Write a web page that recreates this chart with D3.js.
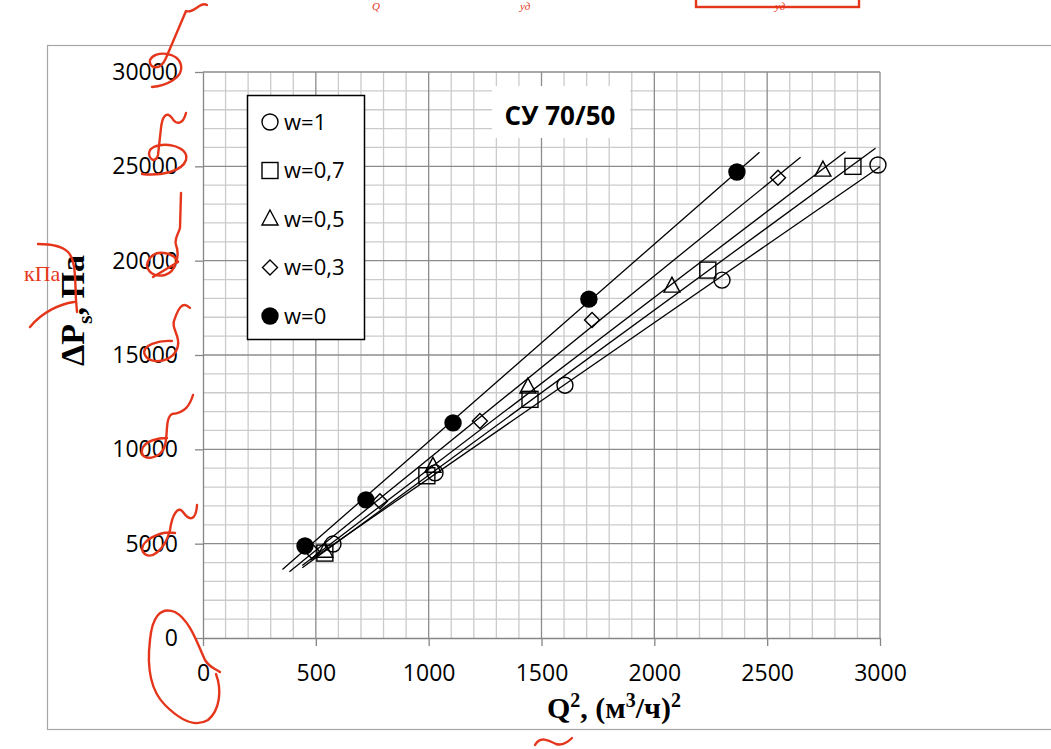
<!DOCTYPE html>
<html>
<head>
<meta charset="utf-8">
<script src="https://cdn.jsdelivr.net/npm/d3@7"></script>
<style>
body { margin: 0; background: #fff; }
svg { display: block; }
</style>
</head>
<body>
<svg width="1051" height="749"></svg>
<script>
// values: Q^2 and dPs for each w
var seriesNames = ["w=1", "w=0,7", "w=0,5", "w=0,3", "w=0"];
var seriesShapes = ["circle", "square", "triangle", "diamond", "dot"];
var q2W1  = [576, 1028, 1604, 2300, 2991];
var dpW1  = [4980, 8750, 13400, 18970, 25070];
var q2W07 = [540, 992, 1449, 2237, 2880];
var dpW07 = [4500, 8600, 12650, 19500, 25000];
var q2W05 = [540, 1019, 1440, 2078, 2747];
var dpW05 = [4600, 9100, 13300, 18650, 24800];
var q2W03 = [483, 784, 1227, 1724, 2548];
var dpW03 = [4600, 7250, 11500, 16850, 24400];
var q2W0  = [452, 722, 1108, 1710, 2366];
var dpW0  = [4880, 7320, 11400, 17960, 24700];
var xTicks = [0, 500, 1000, 1500, 2000, 2500, 3000];
var yTicks = [0, 5000, 10000, 15000, 20000, 25000, 30000];

var allQ = [q2W1, q2W07, q2W05, q2W03, q2W0];
var allP = [dpW1, dpW07, dpW05, dpW03, dpW0];

var svg = d3.select("svg");
var x = d3.scaleLinear().domain([0, 3000]).range([203, 880]);
var y = d3.scaleLinear().domain([0, 30000]).range([638, 72]);

// outer chart frame
svg.append("rect")
    .attr("x", 47.5).attr("y", 45.5)
    .attr("width", 1030).attr("height", 684)
    .attr("fill", "#fff").attr("stroke", "#a6a6a6").attr("stroke-width", 1.2);

// grid
var grid = svg.append("g");
grid.selectAll(".vmin").data(d3.range(100, 3000, 100).filter(function(d) { return d % 500; }))
    .enter().append("line")
    .attr("x1", function(d) { return x(d); }).attr("x2", function(d) { return x(d); })
    .attr("y1", y(0)).attr("y2", y(30000))
    .attr("stroke", "#cbcbcb").attr("stroke-width", 1.3);
grid.selectAll(".hmin").data(d3.range(1000, 30000, 1000).filter(function(d) { return d % 5000; }))
    .enter().append("line")
    .attr("y1", function(d) { return y(d); }).attr("y2", function(d) { return y(d); })
    .attr("x1", x(0)).attr("x2", x(3000))
    .attr("stroke", "#cbcbcb").attr("stroke-width", 1.3);
grid.selectAll(".vmaj").data(xTicks.slice(1))
    .enter().append("line")
    .attr("x1", function(d) { return x(d); }).attr("x2", function(d) { return x(d); })
    .attr("y1", y(0)).attr("y2", y(30000))
    .attr("stroke", "#8c8c8c").attr("stroke-width", 1.3);
grid.selectAll(".hmaj").data(yTicks.slice(1))
    .enter().append("line")
    .attr("y1", function(d) { return y(d); }).attr("y2", function(d) { return y(d); })
    .attr("x1", x(0)).attr("x2", x(3000))
    .attr("stroke", "#8c8c8c").attr("stroke-width", 1.3);

// axes
var fontTick = "'Open Sans', sans-serif";
var yAxis = svg.append("g").attr("transform", "translate(" + x(0) + ",0)")
    .call(d3.axisLeft(y).tickValues(yTicks).tickSize(8).tickSizeOuter(0).tickPadding(17).tickFormat(function(d) { return d; }));
var xAxis = svg.append("g").attr("transform", "translate(0," + y(0) + ")")
    .call(d3.axisBottom(x).tickValues(xTicks).tickSize(8).tickSizeOuter(0).tickPadding(19).tickFormat(function(d) { return d; }));
[xAxis, yAxis].forEach(function(a) {
    a.selectAll("path, line").attr("stroke", "#868686").attr("stroke-width", 1.3);
    a.selectAll("text").attr("fill", "#000").style("font-family", fontTick).style("font-size", "23px");
});

// trendlines (least squares, +-100 forecast, clipped to the plot)
svg.append("clipPath").attr("id", "plotclip").append("rect")
    .attr("x", x(0)).attr("y", y(30000)).attr("width", x(3000) - x(0)).attr("height", y(0) - y(30000));
var trend = svg.append("g").attr("clip-path", "url(#plotclip)");
allQ.forEach(function(qs, i) {
    var ps = allP[i];
    var mx = d3.mean(qs), my = d3.mean(ps);
    var sxy = d3.sum(qs, function(q, k) { return (q - mx) * (ps[k] - my); });
    var sxx = d3.sum(qs, function(q) { return (q - mx) * (q - mx); });
    var b = sxy / sxx, a = my - b * mx;
    var x0 = d3.min(qs) - 100, x1 = d3.max(qs) + 100;
    trend.append("line")
        .attr("x1", x(x0)).attr("y1", y(a + b * x0))
        .attr("x2", x(x1)).attr("y2", y(a + b * x1))
        .attr("stroke", "#000").attr("stroke-width", 1.3);
});

function marker(g, shape, cx, cy) {
    if (shape === "circle") {
        g.append("circle").attr("cx", cx).attr("cy", cy).attr("r", 8)
            .attr("fill", "none").attr("stroke", "#000").attr("stroke-width", 1.4);
    } else if (shape === "dot") {
        g.append("circle").attr("cx", cx).attr("cy", cy).attr("r", 8.7).attr("fill", "#000");
    } else if (shape === "square") {
        g.append("rect").attr("x", cx - 8).attr("y", cy - 8).attr("width", 16).attr("height", 16)
            .attr("fill", "none").attr("stroke", "#000").attr("stroke-width", 1.4);
    } else if (shape === "triangle") {
        g.append("path").attr("d", "M" + cx + "," + (cy - 9) + "L" + (cx + 8) + "," + (cy + 6) + "L" + (cx - 8) + "," + (cy + 6) + "Z")
            .attr("fill", "none").attr("stroke", "#000").attr("stroke-width", 1.4);
    } else if (shape === "diamond") {
        g.append("path").attr("d", "M" + cx + "," + (cy - 7.5) + "L" + (cx + 7.5) + "," + cy + "L" + cx + "," + (cy + 7.5) + "L" + (cx - 7.5) + "," + cy + "Z")
            .attr("fill", "none").attr("stroke", "#000").attr("stroke-width", 1.4);
    }
}

var marks = svg.append("g");
allQ.forEach(function(qs, i) {
    qs.forEach(function(q, k) { marker(marks, seriesShapes[i], x(q), y(allP[i][k])); });
});

// legend
var leg = svg.append("g");
leg.append("rect").attr("x", 247.5).attr("y", 95.5).attr("width", 117).attr("height", 244)
    .attr("fill", "#fff").attr("stroke", "#000").attr("stroke-width", 1.5);
seriesNames.forEach(function(name, i) {
    var ly = 122 + i * 48.5;
    marker(leg, seriesShapes[i], 270, ly);
    leg.append("text").attr("x", 284).attr("y", ly).attr("dy", "0.36em")
        .style("font-family", fontTick).style("font-size", "22px").text(name);
});

// title
svg.append("rect").attr("x", 492).attr("y", 86).attr("width", 138).attr("height", 52).attr("fill", "#fff");
svg.append("text").attr("x", 560).attr("y", 116).attr("dy", "0.36em").attr("text-anchor", "middle")
    .style("font-family", fontTick).style("font-weight", "bold").style("font-size", "26px").text("СУ 70/50");

// axis titles
var xt = svg.append("text").attr("x", 614).attr("y", 718).attr("text-anchor", "middle")
    .style("font-family", "'Liberation Serif', serif").style("font-weight", "bold").style("font-size", "30px");
xt.append("tspan").text("Q");
xt.append("tspan").attr("dy", -11).style("font-size", "20px").text("2");
xt.append("tspan").attr("dy", 11).text(", (м");
xt.append("tspan").attr("dy", -11).style("font-size", "20px").text("3");
xt.append("tspan").attr("dy", 11).text("/ч)");
xt.append("tspan").attr("dy", -11).style("font-size", "20px").text("2");

var yt = svg.append("text").attr("transform", "translate(84,255) rotate(-90)").attr("text-anchor", "end")
    .style("font-family", "'Liberation Serif', serif").style("font-weight", "bold").style("font-size", "34px");
yt.append("tspan").text("ΔP");
yt.append("tspan").attr("dy", 8).style("font-size", "22px").text("s");
yt.append("tspan").attr("dy", -8).text(", Па");

// red hand annotations
var red = "#e5361c";
var ann = svg.append("g").attr("fill", "none").attr("stroke", red).attr("stroke-width", 2.4)
    .attr("stroke-linecap", "round").attr("stroke-linejoin", "round");
[
    "M207,5 C200,1 194,14 186,11 L166,58 C160,72 148,68 150,60 C155,50 178,52 181,65 C184,78 165,86 152,87",
    "M186,113 C183,125 176,125 172,118 C166,110 162,118 161,128 L158,155 C156,165 146,158 150,150 C158,140 190,145 186,160 C182,172 160,176 142,174",
    "M181,193 L180,228 C178,235 174,238 176,245 C180,255 176,272 165,275 C152,278 142,268 150,258 C158,248 175,254 178,262 L153,277",
    "M190,308 C182,300 178,310 175,318 C170,328 180,335 178,345 C176,362 150,366 145,355 C140,345 160,340 172,341",
    "M193,395 C190,405 185,413 172,414 C165,418 168,435 165,445 C162,460 140,462 142,450 C144,440 160,438 167,438",
    "M197,505 C196,520 190,522 183,512 C178,505 172,515 170,530 C165,550 150,562 143,552 C138,542 160,530 175,533",
    "M220,672 C214,668 210,668 205,660 C198,645 190,620 175,612 C160,606 152,618 150,640 C147,665 150,690 165,705 C180,720 195,728 208,720 C220,710 222,690 216,674",
    "M535,745 C540,736 548,740 556,744 C563,746 568,742 572,738",
    "M38,244 C50,244 62,246 68,252 C76,260 75,280 76,300 L77,312",
    "M30,327 C42,312 60,304 74,302"
].forEach(function(d) { ann.append("path").attr("d", d); });
svg.append("rect").attr("x", 696).attr("y", -5).attr("width", 163).attr("height", 12)
    .attr("fill", "none").attr("stroke", red).attr("stroke-width", 2.4);
svg.append("text").attr("x", 24).attr("y", 281).attr("fill", red)
    .style("font-family", "'Liberation Serif', serif").style("font-size", "22px").text("кПа");
[[372, "Q"], [520, "уд"], [775, "уд"]].forEach(function(t) {
    svg.append("text").attr("x", t[0]).attr("y", 10).attr("fill", red)
        .style("font-family", "'Liberation Serif', serif").style("font-style", "italic").style("font-size", "11px").text(t[1]);
});
</script>
</body>
</html>
